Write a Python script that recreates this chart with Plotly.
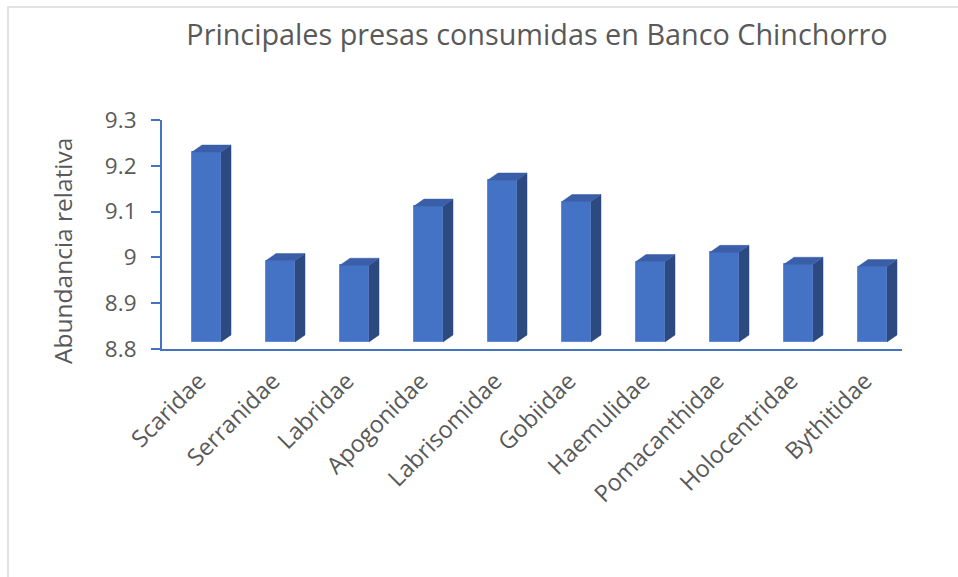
import plotly.graph_objects as go

# Prey families and relative abundance
familias = ["Scaridae", "Serranidae", "Labridae", "Apogonidae", "Labrisomidae",
            "Gobiidae", "Haemulidae", "Pomacanthidae", "Holocentridae", "Bythitidae"]
abundancia = [9.23, 8.993, 8.983, 9.112, 9.169, 9.122, 8.991, 9.011, 8.985, 8.98]
y_ticks = [8.8, 8.9, 9.0, 9.1, 9.2, 9.3]
y_tick_text = ["8.8", "8.9", "9", "9.1", "9.2", "9.3"]

W, H = 958, 577
ML, MR, MT, MB = 162, 56, 120, 228
plot_w = W - ML - MR
plot_h = H - MT - MB
y_min, y_max = 8.8, 9.3
n = len(familias)
x_min, x_max = -0.5, n - 0.5

# pixel -> data conversions for the pseudo-3D depth of each column
px_x = (x_max - x_min) / plot_w
px_y = (y_max - y_min) / plot_h
depth_x = 10 * px_x
depth_y = 7 * px_y
shift = 7.5 * px_x
bar_w = 29 * px_x
base = y_min + depth_y

FRONT = "#4472C4"
SIDE = "#2C4A80"
TOP = "#3A5FA8"

xs = list(range(n))
front_x = [i + shift for i in xs]

fig = go.Figure()

# front faces
fig.add_trace(go.Bar(
    x=front_x, y=[v - base for v in abundancia], base=base, width=bar_w,
    marker=dict(color=FRONT, line=dict(color="#5E8AD8", width=1)),
    hoverinfo="skip", showlegend=False,
))

# side faces
sx, sy = [], []
for cx, v in zip(front_x, abundancia):
    r = cx + bar_w / 2
    sx += [r, r + depth_x, r + depth_x, r, r, None]
    sy += [base, base + depth_y, v + depth_y, v, base, None]
fig.add_trace(go.Scatter(x=sx, y=sy, mode="lines", fill="toself", fillcolor=SIDE,
                         line=dict(color=SIDE, width=0.5), hoverinfo="skip",
                         showlegend=False))

# top faces
tx, ty = [], []
for cx, v in zip(front_x, abundancia):
    l = cx - bar_w / 2
    r = cx + bar_w / 2
    tx += [l, l + depth_x, r + depth_x, r, l, None]
    ty += [v, v + depth_y, v + depth_y, v, v, None]
fig.add_trace(go.Scatter(x=tx, y=ty, mode="lines", fill="toself", fillcolor=TOP,
                         line=dict(color=TOP, width=0.5), hoverinfo="skip",
                         showlegend=False))

FONT = "Open Sans"
GREY = "#595959"

fig.update_layout(
    width=W, height=H,
    margin=dict(l=ML, r=MR, t=MT, b=MB, autoexpand=False),
    paper_bgcolor="white", plot_bgcolor="white",
    font=dict(family=FONT, color=GREY),
    title=dict(text="Principales presas consumidas en Banco Chinchorro",
               x=537 / W, xref="container", xanchor="center",
               y=1 - 35 / H, yref="container", yanchor="middle",
               font=dict(family=FONT, size=28.8, color=GREY)),
    xaxis=dict(range=[x_min, x_max], tickmode="array", tickvals=xs, ticktext=familias,
               tickangle=-45, tickfont=dict(family=FONT, size=23.5, color=GREY),
               showline=True, linecolor="#4472C4", linewidth=2, showgrid=False,
               zeroline=False, ticks="", ticklabelstandoff=7, fixedrange=True),
    yaxis=dict(range=[y_min, y_max], tickmode="array", tickvals=y_ticks,
               ticktext=y_tick_text, tickfont=dict(family=FONT, size=22.5, color=GREY),
               showline=True, linecolor="#4472C4", linewidth=2, ticks="outside",
               ticklen=9, tickcolor="#4472C4", tickwidth=2, showgrid=False,
               zeroline=False, ticklabelstandoff=10, fixedrange=True),
    annotations=[dict(text="Abundancia relativa", textangle=-90, showarrow=False,
                      xref="paper", yref="paper",
                      x=(62 - ML) / plot_w, y=(349 - 251) / plot_h,
                      xanchor="center", yanchor="middle",
                      font=dict(family=FONT, size=24.5, color=GREY))],
    bargap=0,
    shapes=[dict(type="rect", xref="paper", yref="paper",
                 x0=(8 - ML) / plot_w, x1=(W + 20 - ML) / plot_w,
                 y0=-(H + 20 - MT - plot_h) / plot_h, y1=1 + (MT - 7) / plot_h,
                 line=dict(color="#D9D9D9", width=1.5), fillcolor="rgba(0,0,0,0)",
                 layer="below")],
)

fig.write_html("out.html")
